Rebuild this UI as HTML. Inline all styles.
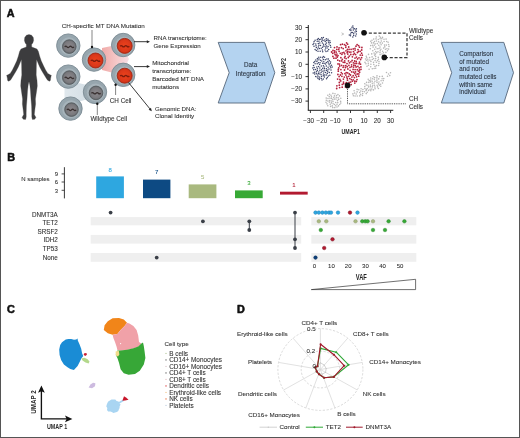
<!DOCTYPE html>
<html><head><meta charset="utf-8"><style>html,body{margin:0;padding:0;background:#fff;}svg{display:block;}</style></head>
<body><svg width="520" height="438" viewBox="0 0 520 438" style="font-family:'Liberation Sans',sans-serif;will-change:transform">
<rect x="0.5" y="0.5" width="519" height="437" fill="#fff" stroke="#555" stroke-width="1"/>
<text x="6.8" y="16.7" font-size="10.8" text-anchor="start" fill="#111" font-weight="bold" stroke="#111" stroke-width="0.55" stroke-linejoin="round">A</text>
<text x="7.2" y="160.9" font-size="10.8" text-anchor="start" fill="#111" font-weight="bold" stroke="#111" stroke-width="0.55" stroke-linejoin="round">B</text>
<text x="7.1" y="313.2" font-size="10.8" text-anchor="start" fill="#111" font-weight="bold" stroke="#111" stroke-width="0.55" stroke-linejoin="round">C</text>
<text x="237.0" y="313.3" font-size="10.8" text-anchor="start" fill="#111" font-weight="bold" stroke="#111" stroke-width="0.55" stroke-linejoin="round">D</text>
<path d="M29.0,34.6 L31.6,35.2 L33.3,37.5 L33.6,40.5 L32.8,43.0 L31.6,44.6 L31.7,47.0 L34.5,48.1 L37.0,49.1 L38.4,51.5 L39.6,56.0 L41.3,61.0 L43.4,65.5 L45.6,70.0 L47.8,73.4 L49.6,74.6 L51.4,75.4 L51.0,76.6 L50.6,78.6 L50.4,80.4 L49.4,81.2 L47.6,80.2 L46.4,78.4 L44.6,75.6 L42.0,71.2 L39.6,66.8 L37.6,62.0 L36.6,59.5 L36.4,64.0 L36.3,70.0 L36.2,75.0 L37.0,80.5 L37.3,86.0 L36.3,93.0 L35.4,99.0 L35.6,104.0 L34.8,110.0 L34.3,114.5 L35.9,117.4 L34.7,119.2 L32.4,119.4 L31.8,117.0 L31.8,113.0 L31.6,106.0 L31.0,99.0 L30.5,91.0 L29.8,85.0 L29.0,81.5 L28.2,85.0 L27.5,91.0 L27.0,99.0 L26.4,106.0 L26.2,113.0 L26.2,117.0 L25.6,119.4 L23.3,119.2 L22.1,117.4 L23.7,114.5 L23.2,110.0 L22.4,104.0 L22.6,99.0 L21.7,93.0 L20.7,86.0 L21.0,80.5 L21.8,75.0 L21.7,70.0 L21.6,64.0 L21.4,59.5 L20.4,62.0 L18.4,66.8 L16.0,71.2 L13.4,75.6 L11.6,78.4 L10.4,80.2 L8.6,81.2 L7.6,80.4 L7.4,78.6 L7.0,76.6 L6.6,75.4 L8.4,74.6 L10.2,73.4 L12.4,70.0 L14.6,65.5 L16.7,61.0 L18.4,56.0 L19.6,51.5 L21.0,49.1 L23.5,48.1 L26.3,47.0 L26.4,44.6 L25.2,43.0 L24.4,40.5 L24.7,37.5 L26.4,35.2 Z" fill="#3c3c3e" stroke="#3c3c3e" stroke-width="0.3" stroke-linejoin="round"/>
<defs><linearGradient id="pg" x1="0" y1="0" x2="1" y2="0"><stop offset="0" stop-color="#f0aaa8"/><stop offset="0.5" stop-color="#f5c6c6"/><stop offset="1" stop-color="#f7dfe6"/></linearGradient><linearGradient id="bg" x1="0" y1="0" x2="1" y2="0"><stop offset="0" stop-color="#e0e8ed"/><stop offset="1" stop-color="#d2dde4"/></linearGradient><radialGradient id="ng"><stop offset="0" stop-color="#8d898d"/><stop offset="0.75" stop-color="#7a797d"/><stop offset="1" stop-color="#66696d"/></radialGradient><radialGradient id="nr"><stop offset="0" stop-color="#ea421c"/><stop offset="0.75" stop-color="#dc381a"/><stop offset="1" stop-color="#c42f16"/></radialGradient></defs>
<polygon points="102,48 121,44 129,59 121,75 102,70" fill="url(#pg)"/>
<polygon points="66,80 91,86 91,98 70,104.5 64.5,100 64.5,85" fill="url(#bg)"/>
<circle cx="68.3" cy="45.6" r="11.7" fill="#97a6ae" stroke="#7b8a93" stroke-width="0.9"/>
<circle cx="68.89999999999999" cy="46.2" r="8.9" fill="#a7b4bb"/>
<circle cx="69.3" cy="46.6" r="6.8" fill="url(#ng)" stroke="#565b5f" stroke-width="0.9"/>
<path d="M64.7,46.9 q1.15,-1.3 2.3,0 t2.3,0 t2.3,0 t2.3,0" fill="none" stroke="#3a3232" stroke-width="1.3"/>
<circle cx="94.0" cy="59.6" r="11.7" fill="#97a6ae" stroke="#7b8a93" stroke-width="0.9"/>
<circle cx="94.9" cy="60.14" r="9.0" fill="#a7b4bb"/>
<circle cx="95.5" cy="60.5" r="7.5" fill="url(#nr)" stroke="#a32713" stroke-width="0.9"/>
<path d="M90.9,60.8 q1.15,-1.3 2.3,0 t2.3,0 t2.3,0 t2.3,0" fill="none" stroke="#7e1c0c" stroke-width="1.3"/>
<circle cx="123.2" cy="45.0" r="11.7" fill="#97a6ae" stroke="#7b8a93" stroke-width="0.9"/>
<circle cx="124.10000000000001" cy="45.54" r="9.0" fill="#a7b4bb"/>
<circle cx="124.7" cy="45.9" r="7.5" fill="url(#nr)" stroke="#a32713" stroke-width="0.9"/>
<path d="M120.1,46.2 q1.15,-1.3 2.3,0 t2.3,0 t2.3,0 t2.3,0" fill="none" stroke="#7e1c0c" stroke-width="1.3"/>
<circle cx="68.3" cy="76.6" r="11.7" fill="#97a6ae" stroke="#7b8a93" stroke-width="0.9"/>
<circle cx="68.89999999999999" cy="77.19999999999999" r="8.9" fill="#a7b4bb"/>
<circle cx="69.3" cy="77.6" r="6.8" fill="url(#ng)" stroke="#565b5f" stroke-width="0.9"/>
<path d="M64.7,77.9 q1.15,-1.3 2.3,0 t2.3,0 t2.3,0 t2.3,0" fill="none" stroke="#3a3232" stroke-width="1.3"/>
<circle cx="123.2" cy="74.8" r="11.7" fill="#97a6ae" stroke="#7b8a93" stroke-width="0.9"/>
<circle cx="124.10000000000001" cy="75.34" r="9.0" fill="#a7b4bb"/>
<circle cx="124.7" cy="75.7" r="7.5" fill="url(#nr)" stroke="#a32713" stroke-width="0.9"/>
<path d="M120.1,76.0 q1.15,-1.3 2.3,0 t2.3,0 t2.3,0 t2.3,0" fill="none" stroke="#7e1c0c" stroke-width="1.3"/>
<circle cx="95.0" cy="91.9" r="11.7" fill="#97a6ae" stroke="#7b8a93" stroke-width="0.9"/>
<circle cx="95.6" cy="92.5" r="8.9" fill="#a7b4bb"/>
<circle cx="96.0" cy="92.9" r="6.8" fill="url(#ng)" stroke="#565b5f" stroke-width="0.9"/>
<path d="M91.4,93.2 q1.15,-1.3 2.3,0 t2.3,0 t2.3,0 t2.3,0" fill="none" stroke="#3a3232" stroke-width="1.3"/>
<circle cx="70.5" cy="108.6" r="11.7" fill="#97a6ae" stroke="#7b8a93" stroke-width="0.9"/>
<circle cx="71.1" cy="109.19999999999999" r="8.9" fill="#a7b4bb"/>
<circle cx="71.5" cy="109.6" r="6.8" fill="url(#ng)" stroke="#565b5f" stroke-width="0.9"/>
<path d="M66.9,109.9 q1.15,-1.3 2.3,0 t2.3,0 t2.3,0 t2.3,0" fill="none" stroke="#3a3232" stroke-width="1.3"/>
<line x1="92" y1="30" x2="92" y2="46.7" stroke="#333" stroke-width="0.6"/><circle cx="92" cy="47" r="1.2" fill="#111"/>
<text x="61.8" y="28.4" font-size="6.25" text-anchor="start" fill="#303030" font-weight="normal" stroke="#303030" stroke-width="0.08" >CH-specific MT DNA Mutation</text>
<line x1="115.6" y1="85" x2="115.6" y2="95" stroke="#333" stroke-width="0.6"/><circle cx="115.6" cy="84.8" r="1.2" fill="#111"/>
<text x="109.8" y="102.8" font-size="6.3" text-anchor="start" fill="#303030" font-weight="normal" stroke="#303030" stroke-width="0.08" >CH Cell</text>
<line x1="97.3" y1="104" x2="97.3" y2="115" stroke="#333" stroke-width="0.6"/><circle cx="97.3" cy="103.8" r="1.2" fill="#111"/>
<text x="90.4" y="121.4" font-size="6.3" text-anchor="start" fill="#303030" font-weight="normal" stroke="#303030" stroke-width="0.08" >Wildtype Cell</text>
<line x1="134" y1="41.7" x2="147.10" y2="41.70" stroke="#222" stroke-width="0.9"/>
<polygon points="150.00,41.70 146.80,43.20 146.80,40.20" fill="#222"/>
<line x1="134" y1="66.6" x2="147.10" y2="66.60" stroke="#222" stroke-width="0.9"/>
<polygon points="150.00,66.60 146.80,68.10 146.80,65.10" fill="#222"/>
<line x1="128.5" y1="82.5" x2="149.97" y2="108.95" stroke="#222" stroke-width="0.9"/>
<polygon points="151.80,111.20 148.62,109.66 150.95,107.77" fill="#222"/>
<text x="153.6" y="39.8" font-size="6.15" text-anchor="start" fill="#303030" font-weight="normal" stroke="#303030" stroke-width="0.08" >RNA transcriptome:</text>
<text x="153.6" y="47.5" font-size="6.15" text-anchor="start" fill="#303030" font-weight="normal" stroke="#303030" stroke-width="0.08" >Gene Expression</text>
<text x="152.2" y="65.0" font-size="6.2" text-anchor="start" fill="#303030" font-weight="normal" stroke="#303030" stroke-width="0.08" >Mitochondrial</text>
<text x="152.2" y="73.0" font-size="6.2" text-anchor="start" fill="#303030" font-weight="normal" stroke="#303030" stroke-width="0.08" >transcriptome:</text>
<text x="152.2" y="80.9" font-size="6.2" text-anchor="start" fill="#303030" font-weight="normal" stroke="#303030" stroke-width="0.08" >Barcoded MT DNA</text>
<text x="152.2" y="88.8" font-size="6.2" text-anchor="start" fill="#303030" font-weight="normal" stroke="#303030" stroke-width="0.08" >mutations</text>
<text x="155.0" y="110.8" font-size="6.2" text-anchor="start" fill="#303030" font-weight="normal" stroke="#303030" stroke-width="0.08" >Genomic DNA:</text>
<text x="155.0" y="118.4" font-size="6.2" text-anchor="start" fill="#303030" font-weight="normal" stroke="#303030" stroke-width="0.08" >Clonal Identity</text>
<polygon points="218.2,42.4 264.6,42.4 274.8,72.7 264.6,103.0 218.2,103.0 229.2,72.7" fill="#b4d3f0" stroke="#56677b" stroke-width="0.9" stroke-linejoin="miter"/>
<text x="250.6" y="67.0" font-size="6.3" text-anchor="middle" fill="#28323f" font-weight="normal" stroke="#28323f" stroke-width="0.08" >Data</text>
<text x="250.6" y="75.5" font-size="6.3" text-anchor="middle" fill="#28323f" font-weight="normal" stroke="#28323f" stroke-width="0.08" >Integration</text>
<polygon points="441.3,42.4 503.8,42.4 513.5,72.7 503.8,103.0 441.3,103.0 451.7,72.7" fill="#b4d3f0" stroke="#56677b" stroke-width="0.9" stroke-linejoin="miter"/>
<text x="459.3" y="56.10" font-size="6.3" text-anchor="start" fill="#28323f" font-weight="normal" stroke="#28323f" stroke-width="0.08" >Comparison</text>
<text x="459.3" y="63.70" font-size="6.3" text-anchor="start" fill="#28323f" font-weight="normal" stroke="#28323f" stroke-width="0.08" >of mutated</text>
<text x="459.3" y="71.30" font-size="6.3" text-anchor="start" fill="#28323f" font-weight="normal" stroke="#28323f" stroke-width="0.08" >and non-</text>
<text x="459.3" y="78.90" font-size="6.3" text-anchor="start" fill="#28323f" font-weight="normal" stroke="#28323f" stroke-width="0.08" >mutated cells</text>
<text x="459.3" y="86.50" font-size="6.3" text-anchor="start" fill="#28323f" font-weight="normal" stroke="#28323f" stroke-width="0.08" >within same</text>
<text x="459.3" y="94.10" font-size="6.3" text-anchor="start" fill="#28323f" font-weight="normal" stroke="#28323f" stroke-width="0.08" >individual</text>
<line x1="308.3" y1="25" x2="308.3" y2="110.3" stroke="#1e1e1e" stroke-width="1.0"/>
<line x1="307.8" y1="110.3" x2="393.3" y2="110.3" stroke="#1e1e1e" stroke-width="1.0"/>
<line x1="305.5" y1="27.5" x2="308.3" y2="27.5" stroke="#1e1e1e" stroke-width="0.9"/>
<text x="302.0" y="29.7" font-size="6.3" text-anchor="end" fill="#303030" font-weight="normal" stroke="#303030" stroke-width="0.08" >30</text>
<line x1="305.5" y1="39.7" x2="308.3" y2="39.7" stroke="#1e1e1e" stroke-width="0.9"/>
<text x="302.0" y="41.9" font-size="6.3" text-anchor="end" fill="#303030" font-weight="normal" stroke="#303030" stroke-width="0.08" >20</text>
<line x1="305.5" y1="52.0" x2="308.3" y2="52.0" stroke="#1e1e1e" stroke-width="0.9"/>
<text x="302.0" y="54.2" font-size="6.3" text-anchor="end" fill="#303030" font-weight="normal" stroke="#303030" stroke-width="0.08" >10</text>
<line x1="305.5" y1="64.3" x2="308.3" y2="64.3" stroke="#1e1e1e" stroke-width="0.9"/>
<text x="302.0" y="66.5" font-size="6.3" text-anchor="end" fill="#303030" font-weight="normal" stroke="#303030" stroke-width="0.08" >0</text>
<line x1="305.5" y1="76.6" x2="308.3" y2="76.6" stroke="#1e1e1e" stroke-width="0.9"/>
<text x="302.0" y="78.8" font-size="6.3" text-anchor="end" fill="#303030" font-weight="normal" stroke="#303030" stroke-width="0.08" >−10</text>
<line x1="305.5" y1="88.9" x2="308.3" y2="88.9" stroke="#1e1e1e" stroke-width="0.9"/>
<text x="302.0" y="91.1" font-size="6.3" text-anchor="end" fill="#303030" font-weight="normal" stroke="#303030" stroke-width="0.08" >−20</text>
<line x1="305.5" y1="101.1" x2="308.3" y2="101.1" stroke="#1e1e1e" stroke-width="0.9"/>
<text x="302.0" y="103.3" font-size="6.3" text-anchor="end" fill="#303030" font-weight="normal" stroke="#303030" stroke-width="0.08" >−30</text>
<line x1="310.4" y1="110.3" x2="310.4" y2="113.0" stroke="#1e1e1e" stroke-width="0.9"/>
<text x="313.9" y="122.8" font-size="6.3" text-anchor="end" fill="#303030" font-weight="normal" stroke="#303030" stroke-width="0.08" >−30</text>
<line x1="323.7" y1="110.3" x2="323.7" y2="113.0" stroke="#1e1e1e" stroke-width="0.9"/>
<text x="327.2" y="122.8" font-size="6.3" text-anchor="end" fill="#303030" font-weight="normal" stroke="#303030" stroke-width="0.08" >−20</text>
<line x1="337.1" y1="110.3" x2="337.1" y2="113.0" stroke="#1e1e1e" stroke-width="0.9"/>
<text x="340.6" y="122.8" font-size="6.3" text-anchor="end" fill="#303030" font-weight="normal" stroke="#303030" stroke-width="0.08" >−10</text>
<line x1="350.5" y1="110.3" x2="350.5" y2="113.0" stroke="#1e1e1e" stroke-width="0.9"/>
<text x="350.5" y="122.8" font-size="6.3" text-anchor="middle" fill="#303030" font-weight="normal" stroke="#303030" stroke-width="0.08" >0</text>
<line x1="363.9" y1="110.3" x2="363.9" y2="113.0" stroke="#1e1e1e" stroke-width="0.9"/>
<text x="363.9" y="122.8" font-size="6.3" text-anchor="middle" fill="#303030" font-weight="normal" stroke="#303030" stroke-width="0.08" >10</text>
<line x1="377.3" y1="110.3" x2="377.3" y2="113.0" stroke="#1e1e1e" stroke-width="0.9"/>
<text x="377.3" y="122.8" font-size="6.3" text-anchor="middle" fill="#303030" font-weight="normal" stroke="#303030" stroke-width="0.08" >20</text>
<line x1="390.6" y1="110.3" x2="390.6" y2="113.0" stroke="#1e1e1e" stroke-width="0.9"/>
<text x="390.6" y="122.8" font-size="6.3" text-anchor="middle" fill="#303030" font-weight="normal" stroke="#303030" stroke-width="0.08" >30</text>
<text x="0" y="0" font-size="8" font-weight="bold" fill="#2b2b2b" text-anchor="middle" transform="translate(350.7,133.9) scale(0.66,1)">UMAP1</text>
<text x="0" y="0" font-size="8" font-weight="bold" fill="#2b2b2b" text-anchor="middle" transform="translate(286.2,67.3) rotate(-90) scale(0.66,1)">UMAP2</text>
<circle cx="376.0" cy="38.9" r="0.78" fill="#b6b6b6"/>
<circle cx="382.5" cy="37.4" r="0.78" fill="#b6b6b6"/>
<circle cx="380.2" cy="42.9" r="0.78" fill="#b6b6b6"/>
<circle cx="370.7" cy="45.6" r="0.78" fill="#b6b6b6"/>
<circle cx="378.0" cy="51.7" r="0.78" fill="#b6b6b6"/>
<circle cx="372.0" cy="40.2" r="0.78" fill="#b6b6b6"/>
<circle cx="382.0" cy="54.0" r="0.78" fill="#b6b6b6"/>
<circle cx="386.7" cy="41.5" r="0.78" fill="#b6b6b6"/>
<circle cx="375.7" cy="51.5" r="0.78" fill="#b6b6b6"/>
<circle cx="373.1" cy="47.1" r="0.78" fill="#b6b6b6"/>
<circle cx="382.3" cy="43.1" r="0.78" fill="#b6b6b6"/>
<circle cx="380.5" cy="37.2" r="0.78" fill="#b6b6b6"/>
<circle cx="375.8" cy="47.1" r="0.78" fill="#b6b6b6"/>
<circle cx="378.6" cy="41.7" r="0.78" fill="#b6b6b6"/>
<circle cx="385.4" cy="49.3" r="0.78" fill="#b6b6b6"/>
<circle cx="380.0" cy="52.6" r="0.78" fill="#b6b6b6"/>
<circle cx="384.1" cy="41.5" r="0.78" fill="#b6b6b6"/>
<circle cx="372.5" cy="45.3" r="0.78" fill="#b6b6b6"/>
<circle cx="370.3" cy="48.7" r="0.78" fill="#b6b6b6"/>
<circle cx="384.8" cy="46.9" r="0.78" fill="#b6b6b6"/>
<circle cx="381.1" cy="44.7" r="0.78" fill="#b6b6b6"/>
<circle cx="379.0" cy="48.6" r="0.78" fill="#b6b6b6"/>
<circle cx="377.2" cy="48.7" r="0.78" fill="#b6b6b6"/>
<circle cx="385.9" cy="52.4" r="0.78" fill="#b6b6b6"/>
<circle cx="375.1" cy="43.9" r="0.78" fill="#b6b6b6"/>
<circle cx="376.7" cy="52.8" r="0.78" fill="#b6b6b6"/>
<circle cx="374.2" cy="45.2" r="0.78" fill="#b6b6b6"/>
<circle cx="381.3" cy="41.0" r="0.78" fill="#b6b6b6"/>
<circle cx="388.6" cy="49.1" r="0.78" fill="#b6b6b6"/>
<circle cx="387.5" cy="50.8" r="0.78" fill="#b6b6b6"/>
<circle cx="377.3" cy="43.6" r="0.78" fill="#b6b6b6"/>
<circle cx="373.7" cy="39.1" r="0.78" fill="#b6b6b6"/>
<circle cx="376.3" cy="37.0" r="0.78" fill="#b6b6b6"/>
<circle cx="371.5" cy="42.9" r="0.78" fill="#b6b6b6"/>
<circle cx="381.8" cy="38.8" r="0.78" fill="#b6b6b6"/>
<circle cx="378.8" cy="45.2" r="0.78" fill="#b6b6b6"/>
<circle cx="376.4" cy="41.0" r="0.78" fill="#b6b6b6"/>
<circle cx="386.1" cy="39.1" r="0.78" fill="#b6b6b6"/>
<circle cx="380.1" cy="38.8" r="0.78" fill="#b6b6b6"/>
<circle cx="380.1" cy="54.6" r="0.78" fill="#b6b6b6"/>
<circle cx="372.8" cy="50.7" r="0.78" fill="#b6b6b6"/>
<circle cx="380.2" cy="50.8" r="0.78" fill="#b6b6b6"/>
<circle cx="374.7" cy="49.2" r="0.78" fill="#b6b6b6"/>
<circle cx="388.6" cy="44.5" r="0.78" fill="#b6b6b6"/>
<circle cx="386.3" cy="45.1" r="0.78" fill="#b6b6b6"/>
<circle cx="382.6" cy="51.2" r="0.78" fill="#b6b6b6"/>
<circle cx="384.5" cy="45.1" r="0.78" fill="#b6b6b6"/>
<circle cx="384.0" cy="39.2" r="0.78" fill="#b6b6b6"/>
<circle cx="374.5" cy="41.6" r="0.78" fill="#b6b6b6"/>
<circle cx="378.3" cy="39.5" r="0.78" fill="#b6b6b6"/>
<circle cx="383.5" cy="52.7" r="0.78" fill="#b6b6b6"/>
<circle cx="380.9" cy="49.3" r="0.78" fill="#b6b6b6"/>
<circle cx="383.6" cy="48.1" r="0.78" fill="#b6b6b6"/>
<circle cx="386.9" cy="48.7" r="0.78" fill="#b6b6b6"/>
<circle cx="389.0" cy="46.4" r="0.78" fill="#b6b6b6"/>
<circle cx="379.3" cy="36.1" r="0.78" fill="#b6b6b6"/>
<circle cx="374.1" cy="53.1" r="0.78" fill="#b6b6b6"/>
<circle cx="370.7" cy="41.3" r="0.78" fill="#b6b6b6"/>
<circle cx="380.0" cy="47.1" r="0.78" fill="#b6b6b6"/>
<circle cx="375.4" cy="54.1" r="0.78" fill="#b6b6b6"/>
<circle cx="388.1" cy="42.3" r="0.78" fill="#b6b6b6"/>
<circle cx="373.4" cy="42.9" r="0.78" fill="#b6b6b6"/>
<circle cx="370.7" cy="66.8" r="0.78" fill="#b6b6b6"/>
<circle cx="378.3" cy="57.4" r="0.78" fill="#b6b6b6"/>
<circle cx="375.7" cy="68.3" r="0.78" fill="#b6b6b6"/>
<circle cx="369.6" cy="57.6" r="0.78" fill="#b6b6b6"/>
<circle cx="378.9" cy="63.5" r="0.78" fill="#b6b6b6"/>
<circle cx="368.4" cy="65.2" r="0.78" fill="#b6b6b6"/>
<circle cx="368.0" cy="61.1" r="0.78" fill="#b6b6b6"/>
<circle cx="370.9" cy="61.4" r="0.78" fill="#b6b6b6"/>
<circle cx="376.5" cy="65.6" r="0.78" fill="#b6b6b6"/>
<circle cx="373.6" cy="58.6" r="0.78" fill="#b6b6b6"/>
<circle cx="365.0" cy="62.4" r="0.78" fill="#b6b6b6"/>
<circle cx="368.5" cy="54.4" r="0.78" fill="#b6b6b6"/>
<circle cx="375.1" cy="60.6" r="0.78" fill="#b6b6b6"/>
<circle cx="373.8" cy="64.5" r="0.78" fill="#b6b6b6"/>
<circle cx="374.5" cy="55.1" r="0.78" fill="#b6b6b6"/>
<circle cx="375.6" cy="56.4" r="0.78" fill="#b6b6b6"/>
<circle cx="372.1" cy="56.9" r="0.78" fill="#b6b6b6"/>
<circle cx="366.3" cy="56.2" r="0.78" fill="#b6b6b6"/>
<circle cx="378.5" cy="59.3" r="0.78" fill="#b6b6b6"/>
<circle cx="377.5" cy="60.6" r="0.78" fill="#b6b6b6"/>
<circle cx="367.8" cy="59.3" r="0.78" fill="#b6b6b6"/>
<circle cx="368.3" cy="63.2" r="0.78" fill="#b6b6b6"/>
<circle cx="376.4" cy="62.3" r="0.78" fill="#b6b6b6"/>
<circle cx="369.1" cy="69.2" r="0.78" fill="#b6b6b6"/>
<circle cx="369.9" cy="60.1" r="0.78" fill="#b6b6b6"/>
<circle cx="374.1" cy="68.5" r="0.78" fill="#b6b6b6"/>
<circle cx="366.7" cy="57.8" r="0.78" fill="#b6b6b6"/>
<circle cx="372.3" cy="68.7" r="0.78" fill="#b6b6b6"/>
<circle cx="371.7" cy="53.9" r="0.78" fill="#b6b6b6"/>
<circle cx="372.3" cy="59.5" r="0.78" fill="#b6b6b6"/>
<circle cx="373.5" cy="62.4" r="0.78" fill="#b6b6b6"/>
<circle cx="370.9" cy="64.2" r="0.78" fill="#b6b6b6"/>
<circle cx="366.4" cy="60.3" r="0.78" fill="#b6b6b6"/>
<circle cx="365.5" cy="59.0" r="0.78" fill="#b6b6b6"/>
<circle cx="367.0" cy="66.3" r="0.78" fill="#b6b6b6"/>
<circle cx="365.9" cy="63.8" r="0.78" fill="#b6b6b6"/>
<circle cx="378.6" cy="65.5" r="0.78" fill="#b6b6b6"/>
<circle cx="375.7" cy="58.6" r="0.78" fill="#b6b6b6"/>
<circle cx="379.0" cy="61.6" r="0.78" fill="#b6b6b6"/>
<circle cx="375.0" cy="66.4" r="0.78" fill="#b6b6b6"/>
<circle cx="376.9" cy="80.7" r="0.78" fill="#b6b6b6"/>
<circle cx="372.2" cy="81.3" r="0.78" fill="#b6b6b6"/>
<circle cx="382.3" cy="76.4" r="0.78" fill="#b6b6b6"/>
<circle cx="368.2" cy="79.2" r="0.78" fill="#b6b6b6"/>
<circle cx="382.5" cy="83.0" r="0.78" fill="#b6b6b6"/>
<circle cx="371.8" cy="89.1" r="0.78" fill="#b6b6b6"/>
<circle cx="368.8" cy="82.4" r="0.78" fill="#b6b6b6"/>
<circle cx="374.9" cy="87.1" r="0.78" fill="#b6b6b6"/>
<circle cx="379.4" cy="85.3" r="0.78" fill="#b6b6b6"/>
<circle cx="367.2" cy="88.5" r="0.78" fill="#b6b6b6"/>
<circle cx="377.6" cy="86.9" r="0.78" fill="#b6b6b6"/>
<circle cx="366.6" cy="82.4" r="0.78" fill="#b6b6b6"/>
<circle cx="382.1" cy="78.8" r="0.78" fill="#b6b6b6"/>
<circle cx="378.4" cy="88.5" r="0.78" fill="#b6b6b6"/>
<circle cx="374.7" cy="77.6" r="0.78" fill="#b6b6b6"/>
<circle cx="370.7" cy="78.0" r="0.78" fill="#b6b6b6"/>
<circle cx="366.1" cy="90.4" r="0.78" fill="#b6b6b6"/>
<circle cx="379.0" cy="82.0" r="0.78" fill="#b6b6b6"/>
<circle cx="368.0" cy="85.2" r="0.78" fill="#b6b6b6"/>
<circle cx="377.0" cy="82.4" r="0.78" fill="#b6b6b6"/>
<circle cx="372.3" cy="86.9" r="0.78" fill="#b6b6b6"/>
<circle cx="372.6" cy="78.7" r="0.78" fill="#b6b6b6"/>
<circle cx="370.4" cy="85.1" r="0.78" fill="#b6b6b6"/>
<circle cx="376.9" cy="79.0" r="0.78" fill="#b6b6b6"/>
<circle cx="364.8" cy="83.7" r="0.78" fill="#b6b6b6"/>
<circle cx="374.5" cy="85.2" r="0.78" fill="#b6b6b6"/>
<circle cx="368.6" cy="86.9" r="0.78" fill="#b6b6b6"/>
<circle cx="368.6" cy="90.4" r="0.78" fill="#b6b6b6"/>
<circle cx="381.1" cy="80.7" r="0.78" fill="#b6b6b6"/>
<circle cx="372.8" cy="85.2" r="0.78" fill="#b6b6b6"/>
<circle cx="374.1" cy="83.0" r="0.78" fill="#b6b6b6"/>
<circle cx="375.1" cy="88.8" r="0.78" fill="#b6b6b6"/>
<circle cx="377.1" cy="85.2" r="0.78" fill="#b6b6b6"/>
<circle cx="370.8" cy="90.7" r="0.78" fill="#b6b6b6"/>
<circle cx="374.3" cy="79.3" r="0.78" fill="#b6b6b6"/>
<circle cx="370.8" cy="80.1" r="0.78" fill="#b6b6b6"/>
<circle cx="364.8" cy="86.6" r="0.78" fill="#b6b6b6"/>
<circle cx="379.6" cy="76.6" r="0.78" fill="#b6b6b6"/>
<circle cx="370.5" cy="81.9" r="0.78" fill="#b6b6b6"/>
<circle cx="380.6" cy="84.2" r="0.78" fill="#b6b6b6"/>
<circle cx="378.7" cy="78.9" r="0.78" fill="#b6b6b6"/>
<circle cx="373.4" cy="89.9" r="0.78" fill="#b6b6b6"/>
<circle cx="370.4" cy="86.7" r="0.78" fill="#b6b6b6"/>
<circle cx="372.3" cy="83.3" r="0.78" fill="#b6b6b6"/>
<circle cx="366.2" cy="85.1" r="0.78" fill="#b6b6b6"/>
<circle cx="369.2" cy="80.6" r="0.78" fill="#b6b6b6"/>
<circle cx="376.9" cy="77.3" r="0.78" fill="#b6b6b6"/>
<circle cx="378.6" cy="83.9" r="0.78" fill="#b6b6b6"/>
<circle cx="383.8" cy="78.6" r="0.78" fill="#b6b6b6"/>
<circle cx="377.0" cy="75.7" r="0.78" fill="#b6b6b6"/>
<circle cx="374.9" cy="81.2" r="0.78" fill="#b6b6b6"/>
<circle cx="383.2" cy="80.6" r="0.78" fill="#b6b6b6"/>
<circle cx="370.1" cy="89.2" r="0.78" fill="#b6b6b6"/>
<circle cx="373.2" cy="76.8" r="0.78" fill="#b6b6b6"/>
<circle cx="380.8" cy="86.3" r="0.78" fill="#b6b6b6"/>
<circle cx="359.7" cy="92.5" r="0.78" fill="#b6b6b6"/>
<circle cx="354.1" cy="90.7" r="0.78" fill="#b6b6b6"/>
<circle cx="361.1" cy="88.7" r="0.78" fill="#b6b6b6"/>
<circle cx="362.9" cy="89.5" r="0.78" fill="#b6b6b6"/>
<circle cx="358.8" cy="89.7" r="0.78" fill="#b6b6b6"/>
<circle cx="364.5" cy="91.8" r="0.78" fill="#b6b6b6"/>
<circle cx="356.2" cy="94.0" r="0.78" fill="#b6b6b6"/>
<circle cx="357.1" cy="91.9" r="0.78" fill="#b6b6b6"/>
<circle cx="362.5" cy="95.4" r="0.78" fill="#b6b6b6"/>
<circle cx="366.4" cy="89.5" r="0.78" fill="#b6b6b6"/>
<circle cx="360.8" cy="91.1" r="0.78" fill="#b6b6b6"/>
<circle cx="364.9" cy="88.5" r="0.78" fill="#b6b6b6"/>
<circle cx="362.7" cy="93.5" r="0.78" fill="#b6b6b6"/>
<circle cx="367.2" cy="92.3" r="0.78" fill="#b6b6b6"/>
<circle cx="357.2" cy="96.0" r="0.78" fill="#b6b6b6"/>
<circle cx="352.9" cy="93.9" r="0.78" fill="#b6b6b6"/>
<circle cx="353.4" cy="95.8" r="0.78" fill="#b6b6b6"/>
<circle cx="360.6" cy="94.4" r="0.78" fill="#b6b6b6"/>
<circle cx="366.2" cy="93.6" r="0.78" fill="#b6b6b6"/>
<circle cx="354.6" cy="93.0" r="0.78" fill="#b6b6b6"/>
<circle cx="357.1" cy="89.4" r="0.78" fill="#b6b6b6"/>
<circle cx="359.8" cy="95.9" r="0.78" fill="#b6b6b6"/>
<circle cx="362.7" cy="91.5" r="0.78" fill="#b6b6b6"/>
<circle cx="355.1" cy="96.0" r="0.78" fill="#b6b6b6"/>
<circle cx="386.5" cy="72.5" r="0.78" fill="#b6b6b6"/>
<circle cx="388.5" cy="74.0" r="0.78" fill="#b6b6b6"/>
<circle cx="390.5" cy="72.8" r="0.78" fill="#b6b6b6"/>
<circle cx="387.5" cy="76.2" r="0.78" fill="#b6b6b6"/>
<circle cx="389.8" cy="75.6" r="0.78" fill="#b6b6b6"/>
<circle cx="335.0" cy="93.8" r="0.78" fill="#b6b6b6"/>
<circle cx="328.0" cy="98.5" r="0.78" fill="#b6b6b6"/>
<circle cx="333.0" cy="101.6" r="0.78" fill="#b6b6b6"/>
<circle cx="331.6" cy="98.4" r="0.78" fill="#b6b6b6"/>
<circle cx="332.8" cy="107.6" r="0.78" fill="#b6b6b6"/>
<circle cx="336.3" cy="97.2" r="0.78" fill="#b6b6b6"/>
<circle cx="329.7" cy="100.5" r="0.78" fill="#b6b6b6"/>
<circle cx="334.5" cy="104.5" r="0.78" fill="#b6b6b6"/>
<circle cx="339.7" cy="104.5" r="0.78" fill="#b6b6b6"/>
<circle cx="335.7" cy="102.5" r="0.78" fill="#b6b6b6"/>
<circle cx="338.4" cy="105.9" r="0.78" fill="#b6b6b6"/>
<circle cx="340.8" cy="103.1" r="0.78" fill="#b6b6b6"/>
<circle cx="330.2" cy="104.3" r="0.78" fill="#b6b6b6"/>
<circle cx="337.5" cy="100.6" r="0.78" fill="#b6b6b6"/>
<circle cx="334.3" cy="99.1" r="0.78" fill="#b6b6b6"/>
<circle cx="326.2" cy="98.1" r="0.78" fill="#b6b6b6"/>
<circle cx="329.2" cy="96.6" r="0.78" fill="#b6b6b6"/>
<circle cx="331.0" cy="95.2" r="0.78" fill="#b6b6b6"/>
<circle cx="332.7" cy="99.7" r="0.78" fill="#b6b6b6"/>
<circle cx="340.8" cy="98.2" r="0.78" fill="#b6b6b6"/>
<circle cx="334.8" cy="107.6" r="0.78" fill="#b6b6b6"/>
<circle cx="332.3" cy="105.9" r="0.78" fill="#b6b6b6"/>
<circle cx="326.3" cy="100.3" r="0.78" fill="#b6b6b6"/>
<circle cx="336.0" cy="99.1" r="0.78" fill="#b6b6b6"/>
<circle cx="326.0" cy="102.3" r="0.78" fill="#b6b6b6"/>
<circle cx="332.9" cy="93.4" r="0.78" fill="#b6b6b6"/>
<circle cx="340.6" cy="101.4" r="0.78" fill="#b6b6b6"/>
<circle cx="327.8" cy="95.3" r="0.78" fill="#b6b6b6"/>
<circle cx="337.9" cy="94.5" r="0.78" fill="#b6b6b6"/>
<circle cx="338.7" cy="99.4" r="0.78" fill="#b6b6b6"/>
<circle cx="337.0" cy="104.3" r="0.78" fill="#b6b6b6"/>
<circle cx="338.1" cy="97.7" r="0.78" fill="#b6b6b6"/>
<circle cx="334.4" cy="95.9" r="0.78" fill="#b6b6b6"/>
<circle cx="330.6" cy="106.4" r="0.78" fill="#b6b6b6"/>
<circle cx="327.0" cy="103.9" r="0.78" fill="#b6b6b6"/>
<circle cx="337.8" cy="102.6" r="0.78" fill="#b6b6b6"/>
<circle cx="327.8" cy="105.8" r="0.78" fill="#b6b6b6"/>
<circle cx="339.5" cy="95.9" r="0.78" fill="#b6b6b6"/>
<circle cx="329.6" cy="94.2" r="0.78" fill="#b6b6b6"/>
<circle cx="329.4" cy="102.1" r="0.78" fill="#b6b6b6"/>
<circle cx="331.5" cy="96.7" r="0.78" fill="#b6b6b6"/>
<circle cx="333.1" cy="103.7" r="0.78" fill="#b6b6b6"/>
<circle cx="335.8" cy="105.7" r="0.78" fill="#b6b6b6"/>
<circle cx="331.4" cy="102.9" r="0.78" fill="#b6b6b6"/>
<circle cx="336.6" cy="95.5" r="0.78" fill="#b6b6b6"/>
<circle cx="330.0" cy="98.3" r="0.78" fill="#b6b6b6"/>
<circle cx="327.9" cy="101.0" r="0.78" fill="#b6b6b6"/>
<circle cx="333.8" cy="97.5" r="0.78" fill="#b6b6b6"/>
<circle cx="337.0" cy="107.0" r="0.78" fill="#b6b6b6"/>
<circle cx="331.3" cy="101.0" r="0.78" fill="#b6b6b6"/>
<circle cx="322.6" cy="47.3" r="0.74" fill="#3d4569"/>
<circle cx="322.7" cy="51.7" r="0.74" fill="#3d4569"/>
<circle cx="320.2" cy="51.3" r="0.74" fill="#3d4569"/>
<circle cx="318.0" cy="51.2" r="0.74" fill="#3d4569"/>
<circle cx="315.8" cy="44.1" r="0.74" fill="#3d4569"/>
<circle cx="325.6" cy="47.9" r="0.74" fill="#3d4569"/>
<circle cx="317.2" cy="41.3" r="0.74" fill="#3d4569"/>
<circle cx="330.8" cy="47.2" r="0.74" fill="#3d4569"/>
<circle cx="318.3" cy="38.4" r="0.74" fill="#3d4569"/>
<circle cx="319.4" cy="39.6" r="0.74" fill="#3d4569"/>
<circle cx="317.7" cy="49.1" r="0.74" fill="#3d4569"/>
<circle cx="318.3" cy="43.6" r="0.74" fill="#3d4569"/>
<circle cx="325.6" cy="44.2" r="0.74" fill="#3d4569"/>
<circle cx="326.3" cy="38.8" r="0.74" fill="#3d4569"/>
<circle cx="330.2" cy="42.6" r="0.74" fill="#3d4569"/>
<circle cx="328.2" cy="40.8" r="0.74" fill="#3d4569"/>
<circle cx="328.7" cy="49.6" r="0.74" fill="#3d4569"/>
<circle cx="325.2" cy="41.6" r="0.74" fill="#3d4569"/>
<circle cx="325.0" cy="46.3" r="0.74" fill="#3d4569"/>
<circle cx="319.4" cy="48.4" r="0.74" fill="#3d4569"/>
<circle cx="315.1" cy="49.4" r="0.74" fill="#3d4569"/>
<circle cx="322.4" cy="39.1" r="0.74" fill="#3d4569"/>
<circle cx="319.8" cy="43.0" r="0.74" fill="#3d4569"/>
<circle cx="325.1" cy="50.1" r="0.74" fill="#3d4569"/>
<circle cx="320.8" cy="39.2" r="0.74" fill="#3d4569"/>
<circle cx="321.2" cy="48.2" r="0.74" fill="#3d4569"/>
<circle cx="326.6" cy="46.0" r="0.74" fill="#3d4569"/>
<circle cx="330.4" cy="45.4" r="0.74" fill="#3d4569"/>
<circle cx="314.1" cy="41.4" r="0.74" fill="#3d4569"/>
<circle cx="316.4" cy="47.5" r="0.74" fill="#3d4569"/>
<circle cx="313.0" cy="44.5" r="0.74" fill="#3d4569"/>
<circle cx="323.6" cy="44.3" r="0.74" fill="#3d4569"/>
<circle cx="320.5" cy="45.4" r="0.74" fill="#3d4569"/>
<circle cx="327.7" cy="51.1" r="0.74" fill="#3d4569"/>
<circle cx="324.8" cy="40.1" r="0.74" fill="#3d4569"/>
<circle cx="326.5" cy="42.9" r="0.74" fill="#3d4569"/>
<circle cx="314.0" cy="46.3" r="0.74" fill="#3d4569"/>
<circle cx="321.7" cy="37.7" r="0.74" fill="#3d4569"/>
<circle cx="328.1" cy="46.5" r="0.74" fill="#3d4569"/>
<circle cx="318.9" cy="45.3" r="0.74" fill="#3d4569"/>
<circle cx="321.6" cy="41.3" r="0.74" fill="#3d4569"/>
<circle cx="315.1" cy="40.3" r="0.74" fill="#3d4569"/>
<circle cx="322.4" cy="42.9" r="0.74" fill="#3d4569"/>
<circle cx="313.8" cy="43.3" r="0.74" fill="#3d4569"/>
<circle cx="318.9" cy="41.2" r="0.74" fill="#3d4569"/>
<circle cx="328.7" cy="42.3" r="0.74" fill="#3d4569"/>
<circle cx="326.6" cy="40.4" r="0.74" fill="#3d4569"/>
<circle cx="318.4" cy="47.0" r="0.74" fill="#3d4569"/>
<circle cx="322.4" cy="49.9" r="0.74" fill="#3d4569"/>
<circle cx="326.0" cy="51.5" r="0.74" fill="#3d4569"/>
<circle cx="316.0" cy="45.7" r="0.74" fill="#3d4569"/>
<circle cx="323.4" cy="37.5" r="0.74" fill="#3d4569"/>
<circle cx="329.1" cy="44.1" r="0.74" fill="#3d4569"/>
<circle cx="328.0" cy="39.2" r="0.74" fill="#3d4569"/>
<circle cx="329.8" cy="40.8" r="0.74" fill="#3d4569"/>
<circle cx="323.0" cy="40.5" r="0.74" fill="#3d4569"/>
<circle cx="317.3" cy="39.6" r="0.74" fill="#3d4569"/>
<circle cx="323.4" cy="45.9" r="0.74" fill="#3d4569"/>
<circle cx="327.1" cy="48.1" r="0.74" fill="#3d4569"/>
<circle cx="316.3" cy="50.4" r="0.74" fill="#3d4569"/>
<circle cx="330.6" cy="62.0" r="0.74" fill="#3d4569"/>
<circle cx="324.1" cy="70.2" r="0.74" fill="#3d4569"/>
<circle cx="318.8" cy="57.3" r="0.74" fill="#3d4569"/>
<circle cx="318.9" cy="71.9" r="0.74" fill="#3d4569"/>
<circle cx="324.4" cy="68.6" r="0.74" fill="#3d4569"/>
<circle cx="314.8" cy="61.5" r="0.74" fill="#3d4569"/>
<circle cx="318.6" cy="66.4" r="0.74" fill="#3d4569"/>
<circle cx="319.7" cy="78.1" r="0.74" fill="#3d4569"/>
<circle cx="317.2" cy="77.0" r="0.74" fill="#3d4569"/>
<circle cx="317.3" cy="70.5" r="0.74" fill="#3d4569"/>
<circle cx="328.3" cy="75.9" r="0.74" fill="#3d4569"/>
<circle cx="317.8" cy="75.0" r="0.74" fill="#3d4569"/>
<circle cx="322.0" cy="80.1" r="0.74" fill="#3d4569"/>
<circle cx="313.5" cy="65.5" r="0.74" fill="#3d4569"/>
<circle cx="323.4" cy="65.7" r="0.74" fill="#3d4569"/>
<circle cx="328.4" cy="58.9" r="0.74" fill="#3d4569"/>
<circle cx="314.2" cy="67.5" r="0.74" fill="#3d4569"/>
<circle cx="322.6" cy="63.3" r="0.74" fill="#3d4569"/>
<circle cx="326.4" cy="68.8" r="0.74" fill="#3d4569"/>
<circle cx="322.6" cy="68.2" r="0.74" fill="#3d4569"/>
<circle cx="319.6" cy="64.5" r="0.74" fill="#3d4569"/>
<circle cx="331.5" cy="65.3" r="0.74" fill="#3d4569"/>
<circle cx="314.7" cy="72.2" r="0.74" fill="#3d4569"/>
<circle cx="319.0" cy="76.7" r="0.74" fill="#3d4569"/>
<circle cx="320.4" cy="60.3" r="0.74" fill="#3d4569"/>
<circle cx="325.6" cy="72.4" r="0.74" fill="#3d4569"/>
<circle cx="321.3" cy="66.1" r="0.74" fill="#3d4569"/>
<circle cx="321.5" cy="76.4" r="0.74" fill="#3d4569"/>
<circle cx="319.9" cy="74.0" r="0.74" fill="#3d4569"/>
<circle cx="331.6" cy="72.8" r="0.74" fill="#3d4569"/>
<circle cx="321.8" cy="61.1" r="0.74" fill="#3d4569"/>
<circle cx="326.3" cy="62.6" r="0.74" fill="#3d4569"/>
<circle cx="325.3" cy="59.7" r="0.74" fill="#3d4569"/>
<circle cx="323.4" cy="59.6" r="0.74" fill="#3d4569"/>
<circle cx="322.1" cy="71.2" r="0.74" fill="#3d4569"/>
<circle cx="315.1" cy="63.8" r="0.74" fill="#3d4569"/>
<circle cx="324.7" cy="75.1" r="0.74" fill="#3d4569"/>
<circle cx="323.8" cy="61.7" r="0.74" fill="#3d4569"/>
<circle cx="324.6" cy="57.2" r="0.74" fill="#3d4569"/>
<circle cx="329.3" cy="60.7" r="0.74" fill="#3d4569"/>
<circle cx="329.0" cy="68.9" r="0.74" fill="#3d4569"/>
<circle cx="318.0" cy="78.5" r="0.74" fill="#3d4569"/>
<circle cx="332.2" cy="67.0" r="0.74" fill="#3d4569"/>
<circle cx="328.3" cy="63.1" r="0.74" fill="#3d4569"/>
<circle cx="328.1" cy="67.3" r="0.74" fill="#3d4569"/>
<circle cx="326.3" cy="65.9" r="0.74" fill="#3d4569"/>
<circle cx="316.9" cy="61.6" r="0.74" fill="#3d4569"/>
<circle cx="327.3" cy="77.4" r="0.74" fill="#3d4569"/>
<circle cx="330.8" cy="67.7" r="0.74" fill="#3d4569"/>
<circle cx="316.4" cy="73.7" r="0.74" fill="#3d4569"/>
<circle cx="319.9" cy="70.3" r="0.74" fill="#3d4569"/>
<circle cx="316.8" cy="66.9" r="0.74" fill="#3d4569"/>
<circle cx="321.1" cy="72.6" r="0.74" fill="#3d4569"/>
<circle cx="327.8" cy="70.1" r="0.74" fill="#3d4569"/>
<circle cx="323.9" cy="72.0" r="0.74" fill="#3d4569"/>
<circle cx="319.8" cy="67.9" r="0.74" fill="#3d4569"/>
<circle cx="323.4" cy="74.0" r="0.74" fill="#3d4569"/>
<circle cx="317.4" cy="58.4" r="0.74" fill="#3d4569"/>
<circle cx="326.9" cy="59.1" r="0.74" fill="#3d4569"/>
<circle cx="319.0" cy="59.0" r="0.74" fill="#3d4569"/>
<circle cx="326.3" cy="75.1" r="0.74" fill="#3d4569"/>
<circle cx="321.1" cy="74.8" r="0.74" fill="#3d4569"/>
<circle cx="330.2" cy="66.2" r="0.74" fill="#3d4569"/>
<circle cx="316.5" cy="71.8" r="0.74" fill="#3d4569"/>
<circle cx="323.3" cy="75.8" r="0.74" fill="#3d4569"/>
<circle cx="314.7" cy="73.9" r="0.74" fill="#3d4569"/>
<circle cx="317.9" cy="60.1" r="0.74" fill="#3d4569"/>
<circle cx="320.7" cy="57.2" r="0.74" fill="#3d4569"/>
<circle cx="321.3" cy="78.4" r="0.74" fill="#3d4569"/>
<circle cx="318.4" cy="73.6" r="0.74" fill="#3d4569"/>
<circle cx="324.4" cy="77.1" r="0.74" fill="#3d4569"/>
<circle cx="326.3" cy="70.5" r="0.74" fill="#3d4569"/>
<circle cx="324.1" cy="63.6" r="0.74" fill="#3d4569"/>
<circle cx="327.3" cy="73.6" r="0.74" fill="#3d4569"/>
<circle cx="329.3" cy="72.5" r="0.74" fill="#3d4569"/>
<circle cx="315.8" cy="60.1" r="0.74" fill="#3d4569"/>
<circle cx="318.5" cy="62.8" r="0.74" fill="#3d4569"/>
<circle cx="315.5" cy="69.4" r="0.74" fill="#3d4569"/>
<circle cx="326.5" cy="78.8" r="0.74" fill="#3d4569"/>
<circle cx="312.8" cy="67.9" r="0.74" fill="#3d4569"/>
<circle cx="317.2" cy="63.7" r="0.74" fill="#3d4569"/>
<circle cx="320.1" cy="62.7" r="0.74" fill="#3d4569"/>
<circle cx="331.0" cy="70.0" r="0.74" fill="#3d4569"/>
<circle cx="321.6" cy="69.7" r="0.74" fill="#3d4569"/>
<circle cx="315.7" cy="76.6" r="0.74" fill="#3d4569"/>
<circle cx="324.1" cy="67.1" r="0.74" fill="#3d4569"/>
<circle cx="313.7" cy="69.7" r="0.74" fill="#3d4569"/>
<circle cx="329.8" cy="75.2" r="0.74" fill="#3d4569"/>
<circle cx="327.8" cy="61.6" r="0.74" fill="#3d4569"/>
<circle cx="327.7" cy="71.7" r="0.74" fill="#3d4569"/>
<circle cx="317.4" cy="68.8" r="0.74" fill="#3d4569"/>
<circle cx="329.1" cy="64.8" r="0.74" fill="#3d4569"/>
<circle cx="319.3" cy="79.6" r="0.74" fill="#3d4569"/>
<circle cx="323.3" cy="79.0" r="0.74" fill="#3d4569"/>
<circle cx="313.2" cy="73.1" r="0.74" fill="#3d4569"/>
<circle cx="323.3" cy="56.5" r="0.74" fill="#3d4569"/>
<circle cx="313.8" cy="62.6" r="0.74" fill="#3d4569"/>
<circle cx="330.2" cy="63.5" r="0.74" fill="#3d4569"/>
<circle cx="325.6" cy="64.1" r="0.74" fill="#3d4569"/>
<circle cx="322.6" cy="57.8" r="0.74" fill="#3d4569"/>
<circle cx="351.3" cy="32.5" r="0.74" fill="#3d4569"/>
<circle cx="352.8" cy="36.9" r="0.74" fill="#3d4569"/>
<circle cx="353.7" cy="33.7" r="0.74" fill="#3d4569"/>
<circle cx="353.7" cy="35.4" r="0.74" fill="#3d4569"/>
<circle cx="350.6" cy="33.9" r="0.74" fill="#3d4569"/>
<circle cx="352.9" cy="26.1" r="0.74" fill="#3d4569"/>
<circle cx="350.9" cy="30.6" r="0.74" fill="#3d4569"/>
<circle cx="350.9" cy="28.9" r="0.74" fill="#3d4569"/>
<circle cx="355.0" cy="31.9" r="0.74" fill="#3d4569"/>
<circle cx="356.4" cy="31.5" r="0.74" fill="#3d4569"/>
<circle cx="350.5" cy="35.8" r="0.74" fill="#3d4569"/>
<circle cx="349.7" cy="29.8" r="0.74" fill="#3d4569"/>
<circle cx="355.7" cy="36.0" r="0.74" fill="#3d4569"/>
<circle cx="354.5" cy="28.8" r="0.74" fill="#3d4569"/>
<circle cx="352.0" cy="27.2" r="0.74" fill="#3d4569"/>
<circle cx="353.3" cy="28.0" r="0.74" fill="#3d4569"/>
<circle cx="356.3" cy="33.9" r="0.74" fill="#3d4569"/>
<circle cx="353.3" cy="30.1" r="0.74" fill="#3d4569"/>
<circle cx="352.7" cy="32.4" r="0.74" fill="#3d4569"/>
<circle cx="355.8" cy="30.0" r="0.74" fill="#3d4569"/>
<circle cx="349.3" cy="34.9" r="0.74" fill="#3d4569"/>
<circle cx="356.4" cy="28.7" r="0.74" fill="#3d4569"/>
<circle cx="339.5" cy="64.1" r="0.88" fill="#b3213d"/>
<circle cx="337.6" cy="79.1" r="0.88" fill="#b3213d"/>
<circle cx="355.7" cy="75.1" r="0.88" fill="#b3213d"/>
<circle cx="356.0" cy="46.2" r="0.88" fill="#b3213d"/>
<circle cx="359.0" cy="57.8" r="0.88" fill="#b3213d"/>
<circle cx="356.6" cy="63.4" r="0.88" fill="#b3213d"/>
<circle cx="359.1" cy="63.7" r="0.88" fill="#b3213d"/>
<circle cx="339.1" cy="47.8" r="0.88" fill="#b3213d"/>
<circle cx="346.6" cy="42.9" r="0.88" fill="#b3213d"/>
<circle cx="349.1" cy="82.4" r="0.88" fill="#b3213d"/>
<circle cx="345.8" cy="45.7" r="0.88" fill="#b3213d"/>
<circle cx="339.3" cy="85.2" r="0.88" fill="#b3213d"/>
<circle cx="353.8" cy="65.2" r="0.88" fill="#b3213d"/>
<circle cx="361.0" cy="69.3" r="0.88" fill="#b3213d"/>
<circle cx="336.2" cy="52.1" r="0.88" fill="#b3213d"/>
<circle cx="349.4" cy="62.8" r="0.88" fill="#b3213d"/>
<circle cx="345.8" cy="47.3" r="0.88" fill="#b3213d"/>
<circle cx="340.7" cy="80.9" r="0.88" fill="#b3213d"/>
<circle cx="343.2" cy="62.3" r="0.88" fill="#b3213d"/>
<circle cx="339.1" cy="76.6" r="0.88" fill="#b3213d"/>
<circle cx="359.5" cy="47.2" r="0.88" fill="#b3213d"/>
<circle cx="346.9" cy="87.4" r="0.88" fill="#b3213d"/>
<circle cx="347.3" cy="78.6" r="0.88" fill="#b3213d"/>
<circle cx="336.9" cy="54.1" r="0.88" fill="#b3213d"/>
<circle cx="354.6" cy="61.0" r="0.88" fill="#b3213d"/>
<circle cx="360.2" cy="51.3" r="0.88" fill="#b3213d"/>
<circle cx="358.6" cy="51.5" r="0.88" fill="#b3213d"/>
<circle cx="361.6" cy="57.7" r="0.88" fill="#b3213d"/>
<circle cx="347.2" cy="66.7" r="0.88" fill="#b3213d"/>
<circle cx="345.1" cy="56.4" r="0.88" fill="#b3213d"/>
<circle cx="357.2" cy="74.0" r="0.88" fill="#b3213d"/>
<circle cx="332.7" cy="53.3" r="0.88" fill="#b3213d"/>
<circle cx="355.0" cy="63.4" r="0.88" fill="#b3213d"/>
<circle cx="334.7" cy="51.0" r="0.88" fill="#b3213d"/>
<circle cx="350.7" cy="82.1" r="0.88" fill="#b3213d"/>
<circle cx="361.6" cy="53.2" r="0.88" fill="#b3213d"/>
<circle cx="339.3" cy="82.5" r="0.88" fill="#b3213d"/>
<circle cx="359.2" cy="67.8" r="0.88" fill="#b3213d"/>
<circle cx="350.1" cy="70.3" r="0.88" fill="#b3213d"/>
<circle cx="355.3" cy="65.6" r="0.88" fill="#b3213d"/>
<circle cx="334.4" cy="52.7" r="0.88" fill="#b3213d"/>
<circle cx="356.1" cy="67.0" r="0.88" fill="#b3213d"/>
<circle cx="342.2" cy="87.2" r="0.88" fill="#b3213d"/>
<circle cx="349.3" cy="52.1" r="0.88" fill="#b3213d"/>
<circle cx="351.1" cy="49.3" r="0.88" fill="#b3213d"/>
<circle cx="349.3" cy="56.1" r="0.88" fill="#b3213d"/>
<circle cx="345.9" cy="75.1" r="0.88" fill="#b3213d"/>
<circle cx="340.9" cy="69.6" r="0.88" fill="#b3213d"/>
<circle cx="350.8" cy="54.5" r="0.88" fill="#b3213d"/>
<circle cx="347.8" cy="51.3" r="0.88" fill="#b3213d"/>
<circle cx="342.2" cy="52.8" r="0.88" fill="#b3213d"/>
<circle cx="352.4" cy="56.8" r="0.88" fill="#b3213d"/>
<circle cx="344.9" cy="73.6" r="0.88" fill="#b3213d"/>
<circle cx="336.0" cy="58.2" r="0.88" fill="#b3213d"/>
<circle cx="349.0" cy="85.3" r="0.88" fill="#b3213d"/>
<circle cx="345.8" cy="65.6" r="0.88" fill="#b3213d"/>
<circle cx="360.5" cy="64.2" r="0.88" fill="#b3213d"/>
<circle cx="347.0" cy="63.6" r="0.88" fill="#b3213d"/>
<circle cx="353.1" cy="69.4" r="0.88" fill="#b3213d"/>
<circle cx="351.6" cy="64.8" r="0.88" fill="#b3213d"/>
<circle cx="357.3" cy="69.7" r="0.88" fill="#b3213d"/>
<circle cx="351.3" cy="79.6" r="0.88" fill="#b3213d"/>
<circle cx="356.5" cy="57.1" r="0.88" fill="#b3213d"/>
<circle cx="358.6" cy="45.6" r="0.88" fill="#b3213d"/>
<circle cx="349.1" cy="49.3" r="0.88" fill="#b3213d"/>
<circle cx="341.5" cy="47.7" r="0.88" fill="#b3213d"/>
<circle cx="351.7" cy="71.9" r="0.88" fill="#b3213d"/>
<circle cx="353.2" cy="48.9" r="0.88" fill="#b3213d"/>
<circle cx="341.3" cy="72.6" r="0.88" fill="#b3213d"/>
<circle cx="353.4" cy="62.8" r="0.88" fill="#b3213d"/>
<circle cx="339.7" cy="60.9" r="0.88" fill="#b3213d"/>
<circle cx="353.5" cy="51.6" r="0.88" fill="#b3213d"/>
<circle cx="339.6" cy="87.6" r="0.88" fill="#b3213d"/>
<circle cx="340.6" cy="44.7" r="0.88" fill="#b3213d"/>
<circle cx="346.3" cy="82.7" r="0.88" fill="#b3213d"/>
<circle cx="346.2" cy="72.7" r="0.88" fill="#b3213d"/>
<circle cx="347.4" cy="49.4" r="0.88" fill="#b3213d"/>
<circle cx="348.9" cy="65.3" r="0.88" fill="#b3213d"/>
<circle cx="343.1" cy="67.3" r="0.88" fill="#b3213d"/>
<circle cx="359.6" cy="72.2" r="0.88" fill="#b3213d"/>
<circle cx="339.9" cy="79.5" r="0.88" fill="#b3213d"/>
<circle cx="354.4" cy="53.5" r="0.88" fill="#b3213d"/>
<circle cx="354.8" cy="81.2" r="0.88" fill="#b3213d"/>
<circle cx="342.4" cy="44.2" r="0.88" fill="#b3213d"/>
<circle cx="342.3" cy="73.8" r="0.88" fill="#b3213d"/>
<circle cx="339.1" cy="51.3" r="0.88" fill="#b3213d"/>
<circle cx="355.0" cy="58.1" r="0.88" fill="#b3213d"/>
<circle cx="355.5" cy="71.9" r="0.88" fill="#b3213d"/>
<circle cx="361.7" cy="50.0" r="0.88" fill="#b3213d"/>
<circle cx="348.7" cy="76.3" r="0.88" fill="#b3213d"/>
<circle cx="353.6" cy="67.1" r="0.88" fill="#b3213d"/>
<circle cx="357.0" cy="79.6" r="0.88" fill="#b3213d"/>
<circle cx="355.6" cy="54.6" r="0.88" fill="#b3213d"/>
<circle cx="332.9" cy="56.4" r="0.88" fill="#b3213d"/>
<circle cx="342.3" cy="59.3" r="0.88" fill="#b3213d"/>
<circle cx="357.9" cy="66.3" r="0.88" fill="#b3213d"/>
<circle cx="350.9" cy="61.8" r="0.88" fill="#b3213d"/>
<circle cx="345.5" cy="86.9" r="0.88" fill="#b3213d"/>
<circle cx="339.7" cy="66.0" r="0.88" fill="#b3213d"/>
<circle cx="356.2" cy="61.5" r="0.88" fill="#b3213d"/>
<circle cx="344.3" cy="77.1" r="0.88" fill="#b3213d"/>
<circle cx="344.7" cy="60.8" r="0.88" fill="#b3213d"/>
<circle cx="343.7" cy="65.8" r="0.88" fill="#b3213d"/>
<circle cx="337.0" cy="46.9" r="0.88" fill="#b3213d"/>
<circle cx="348.3" cy="57.5" r="0.88" fill="#b3213d"/>
<circle cx="360.2" cy="55.1" r="0.88" fill="#b3213d"/>
<circle cx="347.8" cy="54.1" r="0.88" fill="#b3213d"/>
<circle cx="352.1" cy="60.5" r="0.88" fill="#b3213d"/>
<circle cx="353.3" cy="54.6" r="0.88" fill="#b3213d"/>
<circle cx="345.4" cy="67.5" r="0.88" fill="#b3213d"/>
<circle cx="353.6" cy="72.1" r="0.88" fill="#b3213d"/>
<circle cx="344.5" cy="44.7" r="0.88" fill="#b3213d"/>
<circle cx="334.5" cy="47.6" r="0.88" fill="#b3213d"/>
<circle cx="336.8" cy="49.4" r="0.88" fill="#b3213d"/>
<circle cx="338.7" cy="49.4" r="0.88" fill="#b3213d"/>
<circle cx="344.5" cy="70.0" r="0.88" fill="#b3213d"/>
<circle cx="333.9" cy="58.2" r="0.88" fill="#b3213d"/>
<circle cx="347.2" cy="52.7" r="0.88" fill="#b3213d"/>
<circle cx="347.5" cy="80.2" r="0.88" fill="#b3213d"/>
<circle cx="338.3" cy="71.2" r="0.88" fill="#b3213d"/>
<circle cx="360.6" cy="59.5" r="0.88" fill="#b3213d"/>
<circle cx="348.5" cy="60.9" r="0.88" fill="#b3213d"/>
<circle cx="341.9" cy="54.3" r="0.88" fill="#b3213d"/>
<circle cx="336.9" cy="85.8" r="0.88" fill="#b3213d"/>
<circle cx="357.5" cy="58.9" r="0.88" fill="#b3213d"/>
<circle cx="350.0" cy="67.3" r="0.88" fill="#b3213d"/>
<circle cx="337.8" cy="60.2" r="0.88" fill="#b3213d"/>
<circle cx="337.9" cy="74.5" r="0.88" fill="#b3213d"/>
<circle cx="350.5" cy="75.0" r="0.88" fill="#b3213d"/>
<circle cx="355.1" cy="69.6" r="0.88" fill="#b3213d"/>
<circle cx="352.4" cy="81.2" r="0.88" fill="#b3213d"/>
<circle cx="343.4" cy="79.1" r="0.88" fill="#b3213d"/>
<circle cx="351.6" cy="66.7" r="0.88" fill="#b3213d"/>
<circle cx="354.7" cy="73.4" r="0.88" fill="#b3213d"/>
<circle cx="358.0" cy="49.6" r="0.88" fill="#b3213d"/>
<circle cx="341.6" cy="65.4" r="0.88" fill="#b3213d"/>
<circle cx="338.0" cy="63.9" r="0.88" fill="#b3213d"/>
<circle cx="333.0" cy="50.5" r="0.88" fill="#b3213d"/>
<circle cx="359.5" cy="62.1" r="0.88" fill="#b3213d"/>
<circle cx="338.3" cy="69.5" r="0.88" fill="#b3213d"/>
<circle cx="359.6" cy="70.0" r="0.88" fill="#b3213d"/>
<circle cx="353.2" cy="79.8" r="0.88" fill="#b3213d"/>
<circle cx="354.4" cy="77.6" r="0.88" fill="#b3213d"/>
<circle cx="347.7" cy="72.9" r="0.88" fill="#b3213d"/>
<circle cx="336.1" cy="55.7" r="0.88" fill="#b3213d"/>
<circle cx="355.0" cy="48.3" r="0.88" fill="#b3213d"/>
<circle cx="341.9" cy="76.3" r="0.88" fill="#b3213d"/>
<circle cx="357.1" cy="44.7" r="0.88" fill="#b3213d"/>
<circle cx="350.9" cy="52.1" r="0.88" fill="#b3213d"/>
<circle cx="358.7" cy="76.2" r="0.88" fill="#b3213d"/>
<circle cx="357.4" cy="52.5" r="0.88" fill="#b3213d"/>
<circle cx="345.7" cy="84.2" r="0.88" fill="#b3213d"/>
<circle cx="360.9" cy="66.9" r="0.88" fill="#b3213d"/>
<circle cx="347.6" cy="44.2" r="0.88" fill="#b3213d"/>
<circle cx="349.3" cy="74.0" r="0.88" fill="#b3213d"/>
<circle cx="348.7" cy="47.0" r="0.88" fill="#b3213d"/>
<circle cx="358.8" cy="73.9" r="0.88" fill="#b3213d"/>
<circle cx="336.7" cy="88.5" r="0.88" fill="#b3213d"/>
<circle cx="349.8" cy="78.6" r="0.88" fill="#b3213d"/>
<circle cx="347.9" cy="69.0" r="0.88" fill="#b3213d"/>
<circle cx="342.3" cy="84.4" r="0.88" fill="#b3213d"/>
<circle cx="362.3" cy="55.2" r="0.88" fill="#b3213d"/>
<circle cx="356.3" cy="81.4" r="0.88" fill="#b3213d"/>
<circle cx="346.0" cy="50.8" r="0.88" fill="#b3213d"/>
<circle cx="358.4" cy="71.1" r="0.88" fill="#b3213d"/>
<circle cx="340.9" cy="57.7" r="0.88" fill="#b3213d"/>
<circle cx="337.3" cy="57.0" r="0.88" fill="#b3213d"/>
<circle cx="343.9" cy="52.5" r="0.88" fill="#b3213d"/>
<circle cx="354.8" cy="83.1" r="0.88" fill="#b3213d"/>
<circle cx="340.3" cy="53.3" r="0.88" fill="#b3213d"/>
<circle cx="361.9" cy="47.5" r="0.88" fill="#b3213d"/>
<circle cx="356.6" cy="76.8" r="0.88" fill="#b3213d"/>
<circle cx="355.1" cy="50.1" r="0.88" fill="#b3213d"/>
<circle cx="338.0" cy="55.6" r="0.88" fill="#b3213d"/>
<circle cx="343.2" cy="48.6" r="0.88" fill="#b3213d"/>
<circle cx="343.7" cy="83.7" r="0.88" fill="#b3213d"/>
<circle cx="351.9" cy="77.1" r="0.88" fill="#b3213d"/>
<circle cx="353.2" cy="75.7" r="0.88" fill="#b3213d"/>
<circle cx="351.2" cy="84.6" r="0.88" fill="#b3213d"/>
<circle cx="346.1" cy="58.6" r="0.88" fill="#b3213d"/>
<circle cx="346.9" cy="77.0" r="0.88" fill="#b3213d"/>
<circle cx="338.7" cy="67.9" r="0.88" fill="#b3213d"/>
<circle cx="341.7" cy="60.9" r="0.88" fill="#b3213d"/>
<circle cx="331.6" cy="52.0" r="0.88" fill="#b3213d"/>
<circle cx="335.1" cy="54.4" r="0.88" fill="#b3213d"/>
<circle cx="344.8" cy="62.4" r="0.88" fill="#b3213d"/>
<circle cx="344.6" cy="57.8" r="0.88" fill="#b3213d"/>
<circle cx="340.4" cy="75.0" r="0.88" fill="#b3213d"/>
<circle cx="344.7" cy="53.8" r="0.88" fill="#b3213d"/>
<circle cx="343.5" cy="82.1" r="0.88" fill="#b3213d"/>
<path d="M341.5,32.8 l2.2,1.2 l-2.2,1.2" fill="none" stroke="#999" stroke-width="0.6"/>
<path d="M364,33.1 H407.0 V57.5 H384.3" fill="none" stroke="#3a3a3a" stroke-width="1.25" stroke-dasharray="3.1,1.7"/>
<path d="M347.5,85.5 V103.8 H406.5" fill="none" stroke="#444" stroke-width="1.0" stroke-dasharray="0.9,0.9"/>
<circle cx="364" cy="32.8" r="2.8" fill="#111"/>
<circle cx="384.3" cy="57.4" r="2.8" fill="#111"/>
<circle cx="347.6" cy="85.4" r="2.8" fill="#111"/>
<text x="409" y="32.7" font-size="6.3" text-anchor="start" fill="#303030" font-weight="normal" stroke="#303030" stroke-width="0.08" >Wildtype</text>
<text x="409" y="40.2" font-size="6.3" text-anchor="start" fill="#303030" font-weight="normal" stroke="#303030" stroke-width="0.08" >Cells</text>
<text x="409" y="100.8" font-size="6.3" text-anchor="start" fill="#303030" font-weight="normal" stroke="#303030" stroke-width="0.08" >CH</text>
<text x="409" y="108.7" font-size="6.3" text-anchor="start" fill="#303030" font-weight="normal" stroke="#303030" stroke-width="0.08" >Cells</text>
<text x="49.5" y="181.4" font-size="6.0" text-anchor="end" fill="#303030" font-weight="normal" stroke="#303030" stroke-width="0.08" >N samples</text>
<line x1="64.4" y1="167.2" x2="64.4" y2="198.4" stroke="#222" stroke-width="0.9"/>
<line x1="61.6" y1="173.9" x2="64.4" y2="173.9" stroke="#222" stroke-width="0.8"/>
<text x="58.0" y="176.2" font-size="5.9" text-anchor="end" fill="#303030" font-weight="normal" stroke="#303030" stroke-width="0.08" >9</text>
<line x1="61.6" y1="182.0" x2="64.4" y2="182.0" stroke="#222" stroke-width="0.8"/>
<text x="58.0" y="184.3" font-size="5.9" text-anchor="end" fill="#303030" font-weight="normal" stroke="#303030" stroke-width="0.08" >6</text>
<line x1="61.6" y1="190.3" x2="64.4" y2="190.3" stroke="#222" stroke-width="0.8"/>
<text x="58.0" y="192.6" font-size="5.9" text-anchor="end" fill="#303030" font-weight="normal" stroke="#303030" stroke-width="0.08" >3</text>
<rect x="96.2" y="176.4" width="27.7" height="21.8" fill="#2ea7e0"/>
<text x="110.05000000000001" y="172.29999999999998" font-size="6.0" text-anchor="middle" fill="#2ea7e0" font-weight="normal" stroke="#2ea7e0" stroke-width="0.08" >8</text>
<rect x="143.0" y="179.6" width="27.4" height="18.6" fill="#0d4a83"/>
<text x="156.7" y="174.39999999999998" font-size="6.0" text-anchor="middle" fill="#0d4a83" font-weight="normal" stroke="#0d4a83" stroke-width="0.08" >7</text>
<rect x="188.7" y="184.4" width="27.7" height="13.8" fill="#a9b97f"/>
<text x="202.55" y="179.2" font-size="6.0" text-anchor="middle" fill="#a9b97f" font-weight="normal" stroke="#a9b97f" stroke-width="0.08" >5</text>
<rect x="235.0" y="190.4" width="27.7" height="7.8" fill="#37a935"/>
<text x="248.85" y="184.79999999999998" font-size="6.0" text-anchor="middle" fill="#37a935" font-weight="normal" stroke="#37a935" stroke-width="0.08" >3</text>
<rect x="280.0" y="191.7" width="27.7" height="2.9" fill="#b21a30"/>
<text x="293.85" y="187.39999999999998" font-size="6.0" text-anchor="middle" fill="#b21a30" font-weight="normal" stroke="#b21a30" stroke-width="0.08" >1</text>
<text x="57.8" y="216.5" font-size="6.3" text-anchor="end" fill="#303030" font-weight="normal" stroke="#303030" stroke-width="0.08" >DNMT3A</text>
<text x="57.8" y="225.2" font-size="6.3" text-anchor="end" fill="#303030" font-weight="normal" stroke="#303030" stroke-width="0.08" >TET2</text>
<text x="57.8" y="233.6" font-size="6.3" text-anchor="end" fill="#303030" font-weight="normal" stroke="#303030" stroke-width="0.08" >SRSF2</text>
<text x="57.8" y="242.4" font-size="6.3" text-anchor="end" fill="#303030" font-weight="normal" stroke="#303030" stroke-width="0.08" >IDH2</text>
<text x="57.8" y="250.5" font-size="6.3" text-anchor="end" fill="#303030" font-weight="normal" stroke="#303030" stroke-width="0.08" >TP53</text>
<text x="57.8" y="259.5" font-size="6.3" text-anchor="end" fill="#303030" font-weight="normal" stroke="#303030" stroke-width="0.08" >None</text>
<rect x="90.7" y="217.1" width="210.5" height="8.2" fill="#efefef"/>
<rect x="311.3" y="217.1" width="105" height="8.2" fill="#efefef"/>
<rect x="90.7" y="234.9" width="210.5" height="8.7" fill="#efefef"/>
<rect x="311.3" y="234.9" width="105" height="8.7" fill="#efefef"/>
<rect x="90.7" y="253.0" width="210.5" height="8.8" fill="#efefef"/>
<rect x="311.3" y="253.0" width="105" height="8.8" fill="#efefef"/>
<circle cx="110.6" cy="212.6" r="1.9" fill="#3a3f47"/>
<circle cx="156.7" cy="257.6" r="1.9" fill="#3a3f47"/>
<circle cx="202.9" cy="221.3" r="1.9" fill="#3a3f47"/>
<line x1="249.3" y1="221.3" x2="249.3" y2="230.0" stroke="#3a3f47" stroke-width="1"/>
<circle cx="249.3" cy="221.3" r="1.9" fill="#3a3f47"/>
<circle cx="249.3" cy="230.0" r="1.9" fill="#3a3f47"/>
<line x1="295.0" y1="212.6" x2="295.0" y2="248.0" stroke="#3a3f47" stroke-width="1"/>
<circle cx="295.0" cy="212.6" r="1.9" fill="#3a3f47"/>
<circle cx="295.0" cy="239.3" r="1.9" fill="#3a3f47"/>
<circle cx="295.0" cy="248.0" r="1.9" fill="#3a3f47"/>
<circle cx="315.5" cy="212.6" r="1.8" fill="#2ea7e0" stroke="#1f7fb8" stroke-width="0.45"/>
<circle cx="318.8" cy="212.6" r="1.8" fill="#2ea7e0" stroke="#1f7fb8" stroke-width="0.45"/>
<circle cx="322.4" cy="212.6" r="1.8" fill="#2ea7e0" stroke="#1f7fb8" stroke-width="0.45"/>
<circle cx="325.8" cy="212.6" r="1.8" fill="#2ea7e0" stroke="#1f7fb8" stroke-width="0.45"/>
<circle cx="329.0" cy="212.6" r="1.8" fill="#2ea7e0" stroke="#1f7fb8" stroke-width="0.45"/>
<circle cx="331.0" cy="212.6" r="1.8" fill="#2ea7e0" stroke="#1f7fb8" stroke-width="0.45"/>
<circle cx="338.0" cy="212.6" r="1.8" fill="#2ea7e0" stroke="#1f7fb8" stroke-width="0.45"/>
<circle cx="350.0" cy="212.6" r="1.8" fill="#b21a30" stroke="#7e1020" stroke-width="0.45"/>
<circle cx="357.5" cy="212.6" r="1.8" fill="#2ea7e0" stroke="#1f7fb8" stroke-width="0.45"/>
<circle cx="318.8" cy="221.3" r="1.8" fill="#a9b97f" stroke="#8c9870" stroke-width="0.45"/>
<circle cx="326.3" cy="221.3" r="1.8" fill="#a9b97f" stroke="#8c9870" stroke-width="0.45"/>
<circle cx="355.5" cy="221.3" r="1.8" fill="#a9b97f" stroke="#8c9870" stroke-width="0.45"/>
<circle cx="362.3" cy="221.3" r="1.8" fill="#37a935" stroke="#27852a" stroke-width="0.45"/>
<circle cx="365.3" cy="221.3" r="1.8" fill="#37a935" stroke="#27852a" stroke-width="0.45"/>
<circle cx="367.6" cy="221.3" r="1.8" fill="#37a935" stroke="#27852a" stroke-width="0.45"/>
<circle cx="373.0" cy="221.3" r="1.8" fill="#a9b97f" stroke="#8c9870" stroke-width="0.45"/>
<circle cx="388.6" cy="221.3" r="1.8" fill="#37a935" stroke="#27852a" stroke-width="0.45"/>
<circle cx="404.4" cy="221.3" r="1.8" fill="#37a935" stroke="#27852a" stroke-width="0.45"/>
<circle cx="320.8" cy="230.0" r="1.8" fill="#37a935" stroke="#27852a" stroke-width="0.45"/>
<circle cx="373.0" cy="230.0" r="1.8" fill="#37a935" stroke="#27852a" stroke-width="0.45"/>
<circle cx="385.0" cy="230.0" r="1.8" fill="#37a935" stroke="#27852a" stroke-width="0.45"/>
<circle cx="332.5" cy="239.3" r="1.8" fill="#b21a30" stroke="#7e1020" stroke-width="0.45"/>
<circle cx="324.2" cy="248.0" r="1.8" fill="#b21a30" stroke="#7e1020" stroke-width="0.45"/>
<circle cx="315.5" cy="257.6" r="1.8" fill="#0d3f7a" stroke="#0a2c58" stroke-width="0.45"/>
<text x="314.5" y="268.4" font-size="6.0" text-anchor="middle" fill="#303030" font-weight="normal" stroke="#303030" stroke-width="0.08" >0</text>
<text x="331.4" y="268.4" font-size="6.0" text-anchor="middle" fill="#303030" font-weight="normal" stroke="#303030" stroke-width="0.08" >10</text>
<text x="348.2" y="268.4" font-size="6.0" text-anchor="middle" fill="#303030" font-weight="normal" stroke="#303030" stroke-width="0.08" >20</text>
<text x="365.4" y="268.4" font-size="6.0" text-anchor="middle" fill="#303030" font-weight="normal" stroke="#303030" stroke-width="0.08" >30</text>
<text x="382.6" y="268.4" font-size="6.0" text-anchor="middle" fill="#303030" font-weight="normal" stroke="#303030" stroke-width="0.08" >40</text>
<text x="400.0" y="268.4" font-size="6.0" text-anchor="middle" fill="#303030" font-weight="normal" stroke="#303030" stroke-width="0.08" >50</text>
<text x="0" y="0" font-size="8.6" font-weight="bold" fill="#222" text-anchor="middle" transform="translate(361.3,280.1) scale(0.67,1)">VAF</text>
<polygon points="311.3,289.6 415.6,279.3 415.6,289.6" fill="#fff" stroke="#333" stroke-width="0.7"/>
<polygon points="65.7,339.6 68.5,339.0 71.2,339.1 74.0,339.8 76.2,339.4 77.6,338.6 77.8,340.6 79.4,344.1 81.2,348.7 82.1,353.3 83.2,356.0 81.2,358.7 79.4,362.4 77.6,366.0 73.9,369.9 70.3,369.0 67.5,367.2 63.9,364.4 61.1,359.9 59.6,355.1 59.2,349.6 60.2,345.0 62.0,342.3" fill="#1a8cd5"/>
<polygon points="103.8,330.0 104.6,325.2 107.8,321.2 112.6,318.3 119.0,318.0 123.8,319.6 127.0,322.8 124.6,326.0 120.6,330.0 117.4,334.0 112.6,334.8 107.8,333.2" fill="#f18519"/>
<polygon points="112.6,334.8 117.4,334.0 120.6,330.0 124.6,326.0 127.0,322.8 129.4,323.6 133.4,326.0 136.6,330.0 138.2,335.6 139.0,342.0 141.4,343.6 138.2,346.8 133.4,348.4 127.0,350.0 120.6,350.8 117.4,350.0 116.6,346.8 115.0,342.0 113.4,338.0" fill="#f0a1a8"/>
<polygon points="117.4,350.6 120.6,350.6 127.0,349.8 133.4,348.2 138.2,346.6 141.4,343.4 143.0,342.6 143.8,346.0 144.6,351.6 145.4,358.0 143.8,364.4 139.8,370.8 135.0,374.0 128.6,374.8 123.8,373.2 120.6,369.2 119.0,362.8 117.4,358.0 115.8,354.8" fill="#37a737"/>
<polygon points="115.6,351.4 118.8,350.8 119.4,354.5 118.0,356.6 115.8,355.5" fill="#f3dc8c"/>
<circle cx="120.6" cy="343.6" r="0.6" fill="#fff"/>
<polygon points="83.6,354.8 84.6,353.0 86.6,353.2 86.9,354.8 85.2,356.0" fill="#c81f33"/>
<polygon points="81.4,358.4 84.5,357.8 87.6,359.3 89.5,361.6 88.6,363.4 85.5,362.6 82.5,360.6" fill="#b3d88b"/>
<polygon points="88.6,387.6 90.5,384.6 93.0,382.8 95.4,383.2 95.0,386.2 92.0,388.2" fill="#cdbbe0"/>
<polygon points="119.6,406.4 119.6,408.0 118.8,409.4 118.3,411.1 116.9,412.1 115.1,412.4 113.4,413.0 111.8,412.1 110.3,411.6 108.1,411.5 107.0,410.0 107.3,408.0 106.3,406.4 106.7,404.7 107.4,403.1 108.2,401.4 109.9,400.5 111.5,399.5 113.4,399.6 115.3,399.5 116.6,401.1 118.6,401.4 119.2,403.2 120.6,404.5" fill="#a9d5f2"/>
<line x1="117.5" y1="403.8" x2="123.5" y2="400.2" stroke="#a9d5f2" stroke-width="1.6"/>
<polygon points="122.4,400.8 124.0,396.2 126.0,397.4 128.6,399.8 125.0,400.6" fill="#c8162a"/>
<path d="M41.4,419.6 V390 M40.7,418.9 H67" fill="none" stroke="#111" stroke-width="1.35"/>
<polygon points="41.4,385.4 44.8,392.8 41.4,391.2 38.0,392.8" fill="#111"/>
<polygon points="72.4,418.9 65.0,422.3 66.6,418.9 65.0,415.5" fill="#111"/>
<text x="0" y="0" font-size="7.5" font-weight="bold" fill="#2b2b2b" text-anchor="middle" transform="translate(35.6,402.0) rotate(-90) scale(0.84,1)">UMAP 2</text>
<text x="0" y="0" font-size="7.5" font-weight="bold" fill="#2b2b2b" text-anchor="middle" transform="translate(57.0,428.9) scale(0.72,1)">UMAP 1</text>
<text x="164.5" y="345.8" font-size="6.2" text-anchor="start" fill="#303030" font-weight="normal" stroke="#303030" stroke-width="0.08" >Cell type</text>
<circle cx="166" cy="353.4" r="0.7" fill="#b8c9a0"/>
<text x="169.2" y="355.6" font-size="6.4" text-anchor="start" fill="#303030" font-weight="normal" stroke="#303030" stroke-width="0.08" >B cells</text>
<circle cx="166" cy="359.9" r="0.7" fill="#5a5a5a"/>
<text x="169.2" y="362.1" font-size="6.4" text-anchor="start" fill="#303030" font-weight="normal" stroke="#303030" stroke-width="0.08" >CD14+ Monocytes</text>
<circle cx="166" cy="366.4" r="0.7" fill="#d7c3c8"/>
<text x="169.2" y="368.6" font-size="6.4" text-anchor="start" fill="#303030" font-weight="normal" stroke="#303030" stroke-width="0.08" >CD16+ Monocytes</text>
<circle cx="166" cy="372.9" r="0.7" fill="#555"/>
<text x="169.2" y="375.1" font-size="6.4" text-anchor="start" fill="#303030" font-weight="normal" stroke="#303030" stroke-width="0.08" >CD4+ T cells</text>
<circle cx="166" cy="379.4" r="0.7" fill="#e4c2c6"/>
<text x="169.2" y="381.6" font-size="6.4" text-anchor="start" fill="#303030" font-weight="normal" stroke="#303030" stroke-width="0.08" >CD8+ T cells</text>
<circle cx="166" cy="385.9" r="0.7" fill="#d22a2a"/>
<text x="169.2" y="388.1" font-size="6.4" text-anchor="start" fill="#303030" font-weight="normal" stroke="#303030" stroke-width="0.08" >Dendritic cells</text>
<circle cx="166" cy="392.4" r="0.7" fill="#f2c48a"/>
<text x="169.2" y="394.6" font-size="6.4" text-anchor="start" fill="#303030" font-weight="normal" stroke="#303030" stroke-width="0.08" >Erythroid-like cells</text>
<circle cx="166" cy="398.9" r="0.7" fill="#e8602a"/>
<text x="169.2" y="401.1" font-size="6.4" text-anchor="start" fill="#303030" font-weight="normal" stroke="#303030" stroke-width="0.08" >NK cells</text>
<circle cx="166" cy="405.4" r="0.7" fill="#bfcfe0"/>
<text x="169.2" y="407.6" font-size="6.4" text-anchor="start" fill="#303030" font-weight="normal" stroke="#303030" stroke-width="0.08" >Platelets</text>
<ellipse cx="320.4" cy="369.5" rx="19.2" ry="18.4" fill="none" stroke="#cfcfcf" stroke-width="0.8" stroke-dasharray="2.2,1.6"/>
<ellipse cx="320.4" cy="369.5" rx="42.5" ry="40.9" fill="none" stroke="#cfcfcf" stroke-width="0.8" stroke-dasharray="2.2,1.6"/>
<line x1="320.4" y1="369.5" x2="320.4" y2="328.6" stroke="#d4d4d4" stroke-width="0.7"/>
<line x1="320.4" y1="369.5" x2="347.7" y2="338.2" stroke="#d4d4d4" stroke-width="0.7"/>
<line x1="320.4" y1="369.5" x2="362.3" y2="362.4" stroke="#d4d4d4" stroke-width="0.7"/>
<line x1="320.4" y1="369.5" x2="357.2" y2="389.9" stroke="#d4d4d4" stroke-width="0.7"/>
<line x1="320.4" y1="369.5" x2="334.9" y2="407.9" stroke="#d4d4d4" stroke-width="0.7"/>
<line x1="320.4" y1="369.5" x2="305.9" y2="407.9" stroke="#d4d4d4" stroke-width="0.7"/>
<line x1="320.4" y1="369.5" x2="283.6" y2="390.0" stroke="#d4d4d4" stroke-width="0.7"/>
<line x1="320.4" y1="369.5" x2="278.5" y2="362.4" stroke="#d4d4d4" stroke-width="0.7"/>
<line x1="320.4" y1="369.5" x2="293.1" y2="338.2" stroke="#d4d4d4" stroke-width="0.7"/>
<polygon points="320.4,362.8 324.2,365.0 326.2,368.5 325.5,372.4 322.1,374.2 319.0,373.4 316.8,371.6 316.3,368.8 317.7,366.3" fill="none" stroke="#c8c8c8" stroke-width="0.8" stroke-linejoin="round"/>
<circle cx="320.4" cy="362.8" r="0.6" fill="#c8c8c8"/>
<circle cx="324.2" cy="365.0" r="0.6" fill="#c8c8c8"/>
<circle cx="326.2" cy="368.5" r="0.6" fill="#c8c8c8"/>
<circle cx="325.5" cy="372.4" r="0.6" fill="#c8c8c8"/>
<circle cx="322.1" cy="374.2" r="0.6" fill="#c8c8c8"/>
<circle cx="319.0" cy="373.4" r="0.6" fill="#c8c8c8"/>
<circle cx="316.8" cy="371.6" r="0.6" fill="#c8c8c8"/>
<circle cx="316.3" cy="368.8" r="0.6" fill="#c8c8c8"/>
<circle cx="317.7" cy="366.3" r="0.6" fill="#c8c8c8"/>
<polygon points="320.6,348.4 336.2,352.2 348.6,364.8 333.8,376.9 324.1,377.7 319.0,374.3 316.7,371.4 315.2,367.4 317.5,366.2" fill="none" stroke="#2ea836" stroke-width="1.1" stroke-linejoin="round"/>
<circle cx="320.6" cy="348.4" r="1.05" fill="#2ea836"/>
<circle cx="336.2" cy="352.2" r="1.05" fill="#2ea836"/>
<circle cx="348.6" cy="364.8" r="1.05" fill="#2ea836"/>
<circle cx="333.8" cy="376.9" r="1.05" fill="#2ea836"/>
<circle cx="324.1" cy="377.7" r="1.05" fill="#2ea836"/>
<circle cx="319.0" cy="374.3" r="1.05" fill="#2ea836"/>
<circle cx="316.7" cy="371.4" r="1.05" fill="#2ea836"/>
<circle cx="315.2" cy="367.4" r="1.05" fill="#2ea836"/>
<circle cx="317.5" cy="366.2" r="1.05" fill="#2ea836"/>
<polygon points="320.6,344.2 333.9,354.7 344.2,365.7 333.8,376.9 324.1,377.7 319.0,374.3 316.7,371.4 315.2,367.4 317.5,366.2" fill="none" stroke="#a0182a" stroke-width="1.1" stroke-linejoin="round"/>
<circle cx="320.6" cy="344.2" r="1.05" fill="#a0182a"/>
<circle cx="333.9" cy="354.7" r="1.05" fill="#a0182a"/>
<circle cx="344.2" cy="365.7" r="1.05" fill="#a0182a"/>
<circle cx="333.8" cy="376.9" r="1.05" fill="#a0182a"/>
<circle cx="324.1" cy="377.7" r="1.05" fill="#a0182a"/>
<circle cx="319.0" cy="374.3" r="1.05" fill="#a0182a"/>
<circle cx="316.7" cy="371.4" r="1.05" fill="#a0182a"/>
<circle cx="315.2" cy="367.4" r="1.05" fill="#a0182a"/>
<circle cx="317.5" cy="366.2" r="1.05" fill="#a0182a"/>
<text x="315.6" y="330.7" font-size="6.2" text-anchor="end" fill="#303030" font-weight="normal" stroke="#303030" stroke-width="0.08" >0.5</text>
<text x="315.2" y="353.2" font-size="6.2" text-anchor="end" fill="#303030" font-weight="normal" stroke="#303030" stroke-width="0.08" >0.2</text>
<text x="315.9" y="368.3" font-size="6.2" text-anchor="end" fill="#303030" font-weight="normal" stroke="#303030" stroke-width="0.08" >0</text>
<text x="319.3" y="324.7" font-size="6.25" text-anchor="middle" fill="#303030" font-weight="normal" stroke="#303030" stroke-width="0.08" >CD4+ T cells</text>
<text x="287.7" y="336.0" font-size="6.25" text-anchor="end" fill="#303030" font-weight="normal" stroke="#303030" stroke-width="0.08" >Erythroid-like cells</text>
<text x="353.0" y="336.0" font-size="6.25" text-anchor="start" fill="#303030" font-weight="normal" stroke="#303030" stroke-width="0.08" >CD8+ T cells</text>
<text x="272.0" y="363.7" font-size="6.25" text-anchor="end" fill="#303030" font-weight="normal" stroke="#303030" stroke-width="0.08" >Platelets</text>
<text x="369.2" y="363.7" font-size="6.25" text-anchor="start" fill="#303030" font-weight="normal" stroke="#303030" stroke-width="0.08" >CD14+ Monocytes</text>
<text x="277.0" y="395.7" font-size="6.25" text-anchor="end" fill="#303030" font-weight="normal" stroke="#303030" stroke-width="0.08" >Dendritic cells</text>
<text x="362.7" y="395.7" font-size="6.25" text-anchor="start" fill="#303030" font-weight="normal" stroke="#303030" stroke-width="0.08" >NK cells</text>
<text x="274.0" y="417.0" font-size="6.25" text-anchor="middle" fill="#303030" font-weight="normal" stroke="#303030" stroke-width="0.08" >CD16+ Monocytes</text>
<text x="337.3" y="416.4" font-size="6.25" text-anchor="start" fill="#303030" font-weight="normal" stroke="#303030" stroke-width="0.08" >B cells</text>
<line x1="259.6" y1="427.2" x2="277" y2="427.2" stroke="#c8c8c8" stroke-width="0.8"/><circle cx="268.3" cy="427.2" r="0.7" fill="#c8c8c8"/>
<text x="279.6" y="429.4" font-size="6.25" text-anchor="start" fill="#303030" font-weight="normal" stroke="#303030" stroke-width="0.08" >Control</text>
<line x1="305.8" y1="427.2" x2="323" y2="427.2" stroke="#2ea836" stroke-width="1.0"/><circle cx="314.4" cy="427.2" r="1" fill="#2ea836"/>
<text x="325.8" y="429.4" font-size="6.25" text-anchor="start" fill="#303030" font-weight="normal" stroke="#303030" stroke-width="0.08" >TET2</text>
<line x1="346" y1="427.2" x2="362.7" y2="427.2" stroke="#a0182a" stroke-width="1.0"/><circle cx="354.4" cy="427.2" r="1" fill="#a0182a"/>
<text x="365.4" y="429.4" font-size="6.25" text-anchor="start" fill="#303030" font-weight="normal" stroke="#303030" stroke-width="0.08" >DNMT3A</text>
</svg></body></html>
